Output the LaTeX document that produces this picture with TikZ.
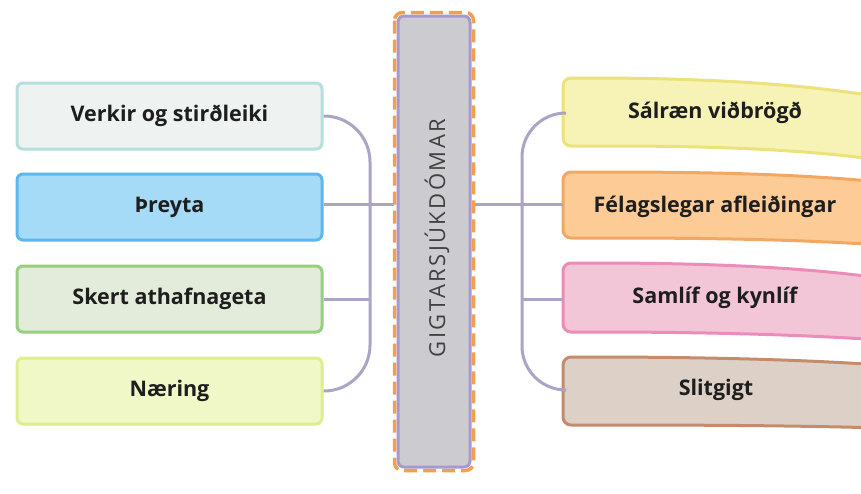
\documentclass[tikz,border=0pt]{standalone}
\usepackage{fontspec}
\setmainfont{Open Sans}
\newfontfamily\barfont[LetterSpace=11]{Open Sans}
\usetikzlibrary{calc}
\definecolor{conn}{HTML}{ACA4C4}
\definecolor{barfill}{HTML}{CBCBD0}
\definecolor{barpurple}{HTML}{A898D0}
\definecolor{barorange}{HTML}{F0A050}
\definecolor{aF}{HTML}{EEF3F2}\definecolor{aD}{HTML}{B4DFDC}
\definecolor{bF}{HTML}{A6DBF7}\definecolor{bD}{HTML}{5AB8EC}
\definecolor{cF}{HTML}{E3EBDA}\definecolor{cD}{HTML}{98CE80}
\definecolor{dF}{HTML}{F1F8C8}\definecolor{dD}{HTML}{DDEE8C}
\definecolor{eF}{HTML}{F7F3B6}\definecolor{eD}{HTML}{ECE27A}
\definecolor{fF}{HTML}{FCCB96}\definecolor{fD}{HTML}{F2A862}
\definecolor{gF}{HTML}{F2C6D6}\definecolor{gD}{HTML}{EC8CB8}
\definecolor{hF}{HTML}{DDD0C6}\definecolor{hD}{HTML}{C48C6C}
\definecolor{txt}{HTML}{1E1E1E}
\tikzset{
  lbox/.style={rectangle, rounded corners=6, minimum width=305, minimum height=66,
    line width=3, text=txt, font=\fontsize{21.5}{24}\selectfont\bfseries},
  lbl/.style={text=txt, font=\fontsize{21.5}{24}\selectfont\bfseries},
  ribbon/.style={line width=3},
  connline/.style={draw=conn, line width=3},
}
\begin{document}
\begin{tikzpicture}[x=1pt,y=-1pt]
\useasboundingbox[fill=white] (0,0) rectangle (861,493);

% left boxes
\node[lbox, fill=aF, draw=aD] (L1) at (169.5,116) {Verkir og stirðleiki};
\node[lbox, fill=bF, draw=bD] (L2) at (169.5,207) {Þreyta};
\node[lbox, fill=cF, draw=cD] (L3) at (169.5,299) {Skert athafnageta};
\node[lbox, fill=dF, draw=dD] (L4) at (169.5,391) {Næring};

% central bar
\node[rectangle, rounded corners=6, minimum width=72, minimum height=451,
      fill=barfill, draw=barpurple, line width=3] (bar) at (434,241.5) {};
\draw[barorange, line width=3.5, dash pattern=on 13 off 6, rounded corners=8]
  ($(bar.north west)+(-2,-2)$) rectangle ($(bar.south east)+(2,2)$);
\node[rotate=90, text=black!75, font=\barfont\fontsize{22}{24}\selectfont] (bartext) at (437,238) {GIGTARSJÚKDÓMAR};

% right ribbons
\path[ribbon, fill=eF, draw=eD] (880,97) .. controls (780,80) and (660,78) .. (590,78)
  [rounded corners=8] -- (563,78) -- (563,146) -- (590,146) [sharp corners]
  .. controls (660,146) and (780,146) .. (880,160) -- cycle;
\path[ribbon, fill=fF, draw=fD] (880,182) .. controls (780,172) and (660,172) .. (590,172)
  [rounded corners=8] -- (563,172) -- (563,238) -- (590,238) [sharp corners]
  .. controls (660,238) and (780,238) .. (880,245) -- cycle;
\path[ribbon, fill=gF, draw=gD] (880,278) .. controls (780,264) and (660,263) .. (590,263)
  [rounded corners=8] -- (563,263) -- (563,332) -- (590,332) [sharp corners]
  .. controls (660,332) and (780,333) .. (880,340) -- cycle;
\path[ribbon, fill=hF, draw=hD] (880,365) .. controls (780,358) and (660,357) .. (590,357)
  [rounded corners=8] -- (563,357) -- (563,425) -- (590,425) [sharp corners]
  .. controls (660,425) and (780,425) .. (880,428) -- cycle;

\node[lbl] (T1) at (715,113) {Sálræn viðbrögð};
\node[lbl] (T2) at (715,207) {Félagslegar afleiðingar};
\node[lbl] (T3) at (715,298) {Samlíf og kynlíf};
\node[lbl] (T4) at (716,390) {Slitgigt};

\coordinate (R1) at (563,113);
\coordinate (R2) at (563,204);
\coordinate (R3) at (563,299);
\coordinate (R4) at (563,390);
\coordinate (lc) at (370,250);
\coordinate (rc) at (522,250);

% connectors left
\draw[connline, rounded corners=46] (L1.east) -| (lc) |- (L4.east);
\draw[connline] (L2.east |- 0,204) -- ($(bar.west |- 0,204)+(-3,0)$);
\draw[connline] (L3.east) -- (L3.east -| lc);
% connectors right
\draw[connline, rounded corners=44] (R1) -| (rc) |- (R4);
\draw[connline] ($(bar.east |- R2)+(3,0)$) -- (R2);
\draw[connline] (R3 -| rc) -- (R3);
\end{tikzpicture}
\end{document}
